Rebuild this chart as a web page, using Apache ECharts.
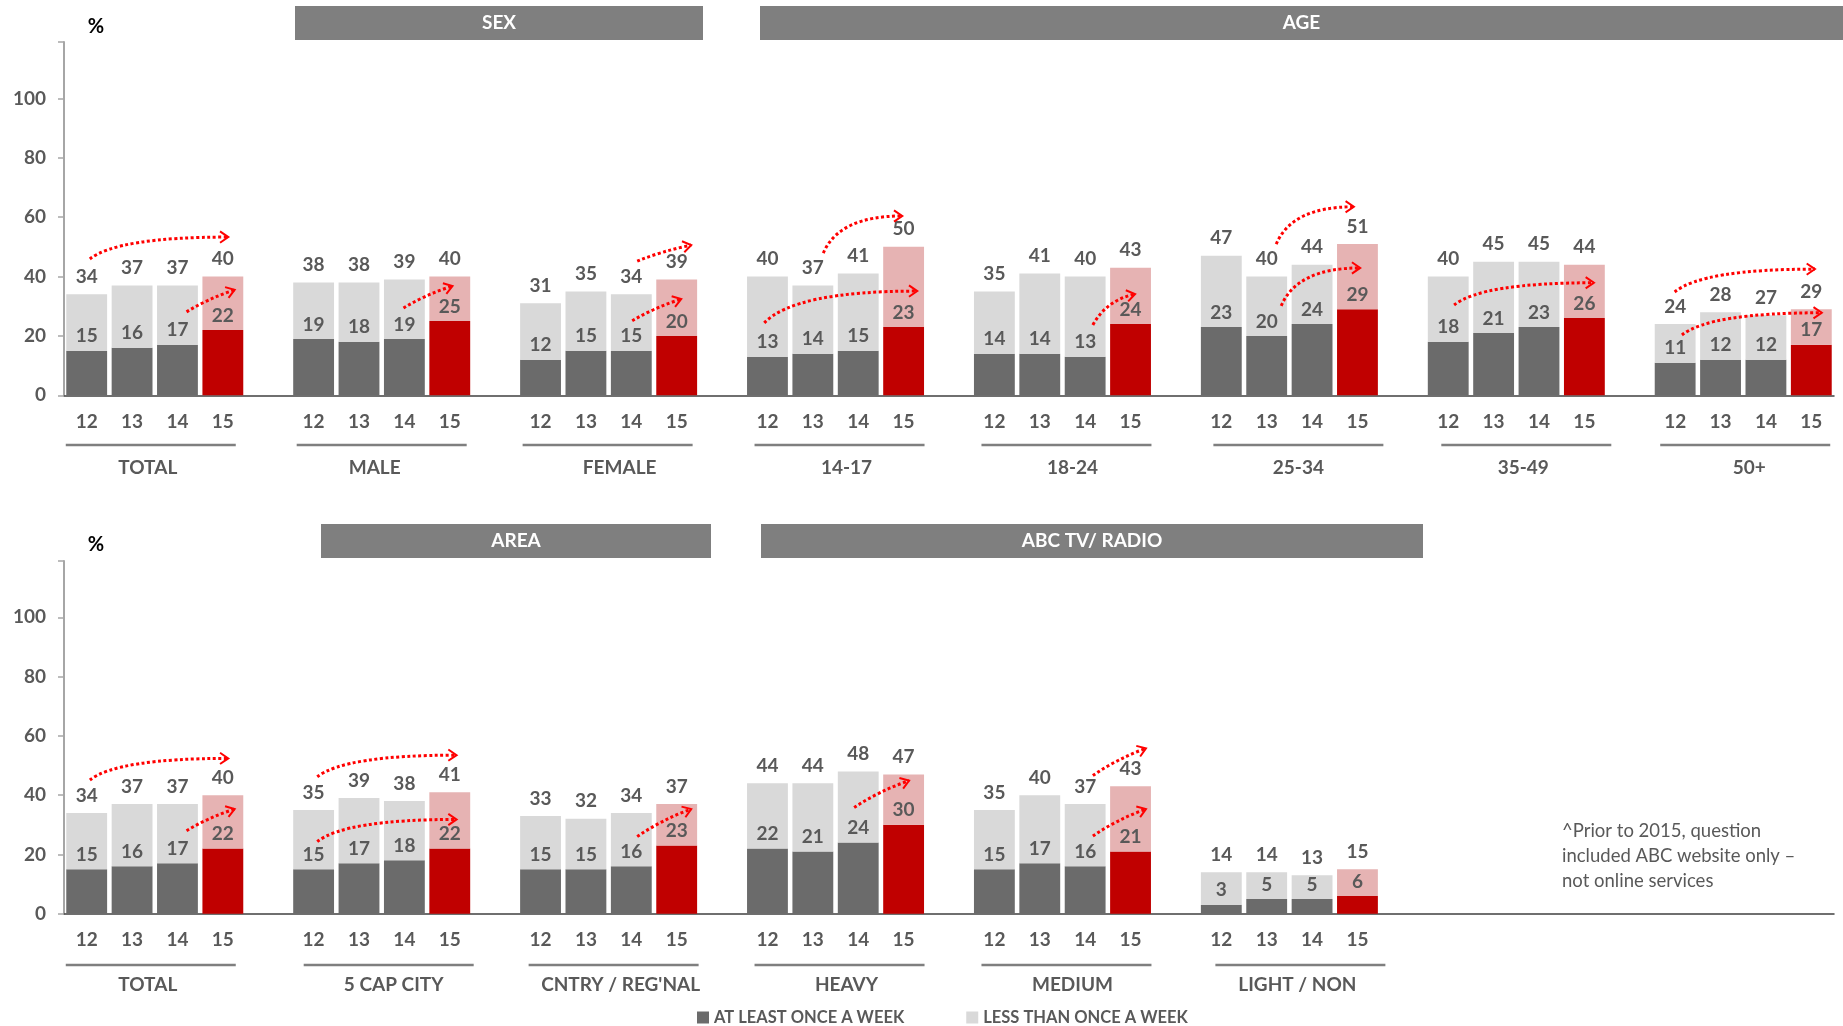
<!DOCTYPE html>
<html>
<head>
    <meta charset="utf-8">
    <title>ABC online usage</title>
    <script src="https://cdn.jsdelivr.net/npm/echarts@6/dist/echarts.min.js"></script>
    <style>
        html, body { margin: 0; padding: 0; background: #fff; }
        #main { width: 1843px; height: 1026px; }
    </style>
</head>
<body>
<div id="main"></div>
<script>
// years shown under each bar
var years = ['12', '13', '14', '15'];

// top panel: sex / age
var topGroups = ['TOTAL', 'MALE', 'FEMALE', '14-17', '18-24', '25-34', '35-49', '50+'];
var topWeekly = [[15, 16, 17, 22], [19, 18, 19, 25], [12, 15, 15, 20], [13, 14, 15, 23],
                 [14, 14, 13, 24], [23, 20, 24, 29], [18, 21, 23, 26], [11, 12, 12, 17]];
var topTotal  = [[34, 37, 37, 40], [38, 38, 39, 40], [31, 35, 34, 39], [40, 37, 41, 50],
                 [35, 41, 40, 43], [47, 40, 44, 51], [40, 45, 45, 44], [24, 28, 27, 29]];

// bottom panel: area / ABC TV-radio
var botGroups = ['TOTAL', '5 CAP CITY', "CNTRY / REG'NAL", 'HEAVY', 'MEDIUM', 'LIGHT / NON'];
var botWeekly = [[15, 16, 17, 22], [15, 17, 18, 22], [15, 15, 16, 23], [22, 21, 24, 30],
                 [15, 17, 16, 21], [3, 5, 5, 6]];
var botTotal  = [[34, 37, 37, 40], [35, 39, 38, 41], [33, 32, 34, 37], [44, 44, 48, 47],
                 [35, 40, 37, 43], [14, 14, 13, 15]];

var yTicks = [0, 20, 40, 60, 80, 100];

// red dotted trend arrows: [slot from, value from, slot to, value to, bend]
var topArrows = [[0.07, 45.9, 3.12, 53.3, 1], [2.2, 28.1, 3.26, 35.5, 0.2], [6.98, 29.4, 8.06, 36.8, 0.2],
                 [12.13, 45.2, 13.32, 50.6, 0.2], [12.02, 25.1, 13.1, 32.4, 0.2], [16.23, 47.9, 17.97, 60.4, 1],
                 [14.93, 24.4, 18.3, 35.1, 1], [22.17, 23.7, 23.1, 34.1, 0.6], [26.21, 50.9, 27.92, 63.5, 1],
                 [26.32, 30.1, 28.06, 42.9, 1], [30.13, 30.4, 33.21, 37.9, 1], [34.99, 34.8, 38.08, 42.5, 1],
                 [35.15, 20.3, 38.23, 27.8, 1]];
var botArrows = [[0.07, 45.1, 3.12, 52.4, 1], [2.2, 28.0, 3.26, 35.3, 0.2], [5.08, 46.2, 8.15, 53.5, 1],
                 [5.08, 24.3, 8.15, 31.8, 1], [12.13, 26.0, 13.32, 35.3, 0.2], [16.91, 35.8, 18.12, 44.9, 0.2],
                 [22.17, 46.6, 23.34, 55.8, 0.2], [22.17, 26.2, 23.34, 35.3, 0.2]];

// hand-placed nudges (px) of group names and underlines, as in the slide
var topNameShift = [-7, -7, 11, 11, 10, 9, 7, 6];
var botNameShift = [-7, 12, 12, 11, 10, 8];
var topLineShift = [-4, 0, -1, 4, 4, 9, 10, 2];
var botLineShift = [-4, 7, 5, 4, 4, 11];

var FONT = 'Lato, "Open Sans", sans-serif';
var TXT = '#595959';
var DARK = '#6b6b6b', LIGHT = '#d9d9d9', RED = '#c00000', PINK = '#e6b3b3';
var NAME_A = 'AT LEAST ONCE A WEEK', NAME_B = 'LESS THAN ONCE A WEEK';

// one slot per bar, one empty slot between groups
var cats = [];
topGroups.forEach(function (g, gi) {
    years.forEach(function (y) { cats.push(gi + '_' + y); });
    if (gi < topGroups.length - 1) cats.push('gap' + gi);
});

function buildData(weekly, total) {
    var dark = [], light = [];
    for (var g = 0; g < topGroups.length; g++) {
        for (var k = 0; k < years.length; k++) {
            if (g < weekly.length) {
                var d = { value: weekly[g][k] };
                var l = { value: total[g][k] - weekly[g][k], total: total[g][k] };
                if (k === years.length - 1) {
                    d.itemStyle = { color: RED };
                    l.itemStyle = { color: PINK };
                }
                dark.push(d); light.push(l);
            } else {
                dark.push('-'); light.push('-');
            }
        }
        if (g < topGroups.length - 1) { dark.push('-'); light.push('-'); }
    }
    return { dark: dark, light: light };
}

var topData = buildData(topWeekly, topTotal);
var botData = buildData(botWeekly, botTotal);

var labelBase = { show: true, position: 'top', color: TXT, fontFamily: FONT, fontWeight: 'bold', fontSize: 19 };

function xAxisFor(gi, nGroups) {
    return {
        type: 'category', gridIndex: gi, data: cats,
        axisLine: { lineStyle: { color: '#404040', width: 1.5 } },
        axisTick: { show: false },
        axisLabel: {
            interval: 0, margin: 17, color: TXT, fontFamily: FONT, fontWeight: 'bold', fontSize: 19,
            formatter: function (v) {
                var p = v.split('_');
                return (p.length === 2 && +p[0] < nGroups) ? p[1] : '';
            }
        }
    };
}
function yAxisFor(gi) {
    return {
        type: 'value', gridIndex: gi, min: 0, max: 119, interval: 20,
        axisLine: { show: true, lineStyle: { color: '#a6a6a6', width: 2 } },
        axisTick: { show: true, length: 6, lineStyle: { color: '#a6a6a6', width: 1.5 } },
        splitLine: { show: false },
        axisLabel: {
            margin: 18, color: TXT, fontFamily: FONT, fontWeight: 'bold', fontSize: 19,
            formatter: function (v) { return yTicks.indexOf(v) >= 0 ? v : ''; }
        }
    };
}
function seriesFor(gi, data) {
    return [{
        name: NAME_A, type: 'bar', xAxisIndex: gi, yAxisIndex: gi, stack: 's' + gi,
        barCategoryGap: '10%', color: DARK, data: data.dark,
        label: Object.assign({}, labelBase, { distance: 5 })
    }, {
        name: NAME_B, type: 'bar', xAxisIndex: gi, yAxisIndex: gi, stack: 's' + gi,
        barCategoryGap: '10%', color: LIGHT, data: data.light,
        label: Object.assign({}, labelBase, { distance: 8, formatter: function (p) { return p.data.total; } })
    }];
}

var chart = echarts.init(document.getElementById('main'));
chart.setOption({
    animation: false,
    backgroundColor: '#fff',
    textStyle: { fontFamily: FONT },
    grid: [
        { left: 64, right: 9, top: 42, height: 353.3 },
        { left: 64, right: 9, top: 561, height: 352.7 }
    ],
    legend: {
        data: [NAME_A, NAME_B], left: 692, top: 1004, icon: 'rect',
        itemWidth: 12, itemHeight: 12, itemGap: 62, selectedMode: false,
        textStyle: { color: TXT, fontFamily: FONT, fontWeight: 'bold', fontSize: 16.5 }
    },
    xAxis: [xAxisFor(0, topGroups.length), xAxisFor(1, botGroups.length)],
    yAxis: [yAxisFor(0), yAxisFor(1)],
    series: seriesFor(0, topData).concat(seriesFor(1, botData))
});

// annotations placed through the axes
var c0 = chart.convertToPixel({ xAxisIndex: 0 }, 0);
var step = chart.convertToPixel({ xAxisIndex: 0 }, 1) - c0;
function sx(s) { return c0 + s * step; }

var graphics = [];

function headerBox(x1, x2, y, text) {
    graphics.push({
        type: 'rect', z: 10, shape: { x: x1, y: y, width: x2 - x1, height: 34 },
        style: { fill: '#7f7f7f' }
    });
    graphics.push({
        type: 'text', z: 11, x: (x1 + x2) / 2, y: y + 17,
        style: { text: text, fill: '#fff', font: 'bold 19px ' + FONT, align: 'center', verticalAlign: 'middle' }
    });
}
headerBox(295, 703, 6, 'SEX');
headerBox(760, 1843, 6, 'AGE');
headerBox(321, 711, 524, 'AREA');
headerBox(761, 1423, 524, 'ABC TV/ RADIO');

[27, 545].forEach(function (y) {
    graphics.push({
        type: 'text', z: 10, x: 96, y: y,
        style: { text: '%', fill: '#000', font: 'bold 20px ' + FONT, align: 'center', verticalAlign: 'middle' }
    });
});

function groupMarks(groups, lineY, labelY, nameShift, lineShift) {
    groups.forEach(function (name, g) {
        var mid = sx(g * 5 + 1.5);
        var lm = mid + lineShift[g];
        graphics.push({
            type: 'line', z: 10, shape: { x1: lm - 85, y1: lineY, x2: lm + 85, y2: lineY },
            style: { stroke: '#7f7f7f', lineWidth: 2.5 }
        });
        graphics.push({
            type: 'text', z: 10, x: mid + nameShift[g], y: labelY,
            style: { text: name, fill: TXT, font: 'bold 19px ' + FONT, align: 'center', verticalAlign: 'middle' }
        });
    });
}
groupMarks(topGroups, 445, 468, topNameShift, topLineShift);
groupMarks(botGroups, 965, 985, botNameShift, botLineShift);

function arrows(list, gi) {
    list.forEach(function (a) {
        var x0 = sx(a[0]), y0 = chart.convertToPixel({ yAxisIndex: gi }, a[1]);
        var x1 = sx(a[2]), y1 = chart.convertToPixel({ yAxisIndex: gi }, a[3]);
        var b = a[4];
        var cx = (x0 + x1) / 2 * (1 - b) + (x0 + 0.2 * (x1 - x0)) * b;
        var cy = (y0 + y1) / 2 * (1 - b) + y1 * b;
        graphics.push({
            type: 'bezierCurve', z: 50,
            shape: { x1: x0, y1: y0, x2: x1, y2: y1, cpx1: cx, cpy1: cy },
            style: { stroke: '#ff0000', lineWidth: 3, lineDash: [3, 2.5], fill: null }
        });
        var ang = Math.atan2(y1 - cy, x1 - cx);
        var len = 10;
        graphics.push({
            type: 'polyline', z: 50,
            shape: { points: [
                [x1 + len * Math.cos(ang + Math.PI - 0.6), y1 + len * Math.sin(ang + Math.PI - 0.6)],
                [x1, y1],
                [x1 + len * Math.cos(ang + Math.PI + 0.6), y1 + len * Math.sin(ang + Math.PI + 0.6)]
            ] },
            style: { stroke: '#ff0000', lineWidth: 2, fill: null }
        });
    });
}
arrows(topArrows, 0);
arrows(botArrows, 1);

graphics.push({
    type: 'text', z: 10, x: 1562, y: 819,
    style: {
        text: '^Prior to 2015, question\nincluded ABC website only \u2013\nnot online services',
        fill: TXT, font: '18.5px ' + FONT, lineHeight: 25, align: 'left', verticalAlign: 'top'
    }
});

chart.setOption({ graphic: graphics });
</script>
</body>
</html>
